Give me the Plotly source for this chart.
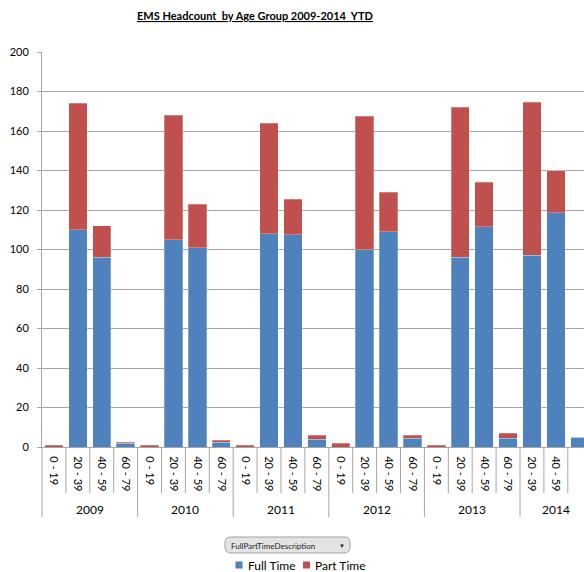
import plotly.graph_objects as go

# ---- data ----
years = ["2009", "2010", "2011", "2012", "2013", "2014"]
age_groups_by_year = [
    ["0 - 19", "20 - 39", "40 - 59", "60 - 79"],
    ["0 - 19", "20 - 39", "40 - 59", "60 - 79"],
    ["0 - 19", "20 - 39", "40 - 59", "60 - 79"],
    ["0 - 19", "20 - 39", "40 - 59", "60 - 79"],
    ["0 - 19", "20 - 39", "40 - 59", "60 - 79"],
    ["20 - 39", "40 - 59", "60 - 79"],
]
full_time = [0, 110, 96, 2,
             0, 105, 101, 2.5,
             0, 108, 107.5, 4,
             0, 100, 109, 4.5,
             0, 96, 111.5, 4.5,
             97, 118.5, 5]
part_time = [1, 64, 16, 0.5,
             1, 63, 22, 1,
             1, 56, 18, 2,
             2, 67.5, 20, 1.5,
             1, 76, 22.5, 2.5,
             77.5, 21.5, 0]
series_names = ["Full Time", "Part Time"]
colors = ["#4F81BD", "#C0504D"]
title_text = "EMS Headcount  by Age Group 2009-2014  YTD"
y_ticks = list(range(0, 201, 20))

# ---- layout geometry (pixels) ----
W, H = 584, 572
ML, MR, MT, MB = 42, 0, 52, 125
PW, PH = W - ML - MR, H - MT - MB
FONT = "Lato, Open Sans, sans-serif"
GRAY = "#A6A6A6"

ages = [a for grp in age_groups_by_year for a in grp]
year_of = [y for y, grp in zip(years, age_groups_by_year) for _ in grp]
idx = list(range(len(ages)))
n = len(ages)
cat_px = 23.9
x0 = -0.5
x1 = x0 + PW / cat_px


def px2x(px):
    return (px - ML) / PW


def px2y(py):
    return (MT + PH - py) / PH


def d2px(v):
    return ML + (v - x0) / (x1 - x0) * PW


fig = go.Figure()
for name, vals, col in zip(series_names, [full_time, part_time], colors):
    fig.add_trace(go.Bar(
        x=idx, y=vals, name=name, width=0.77,
        marker=dict(color=col, line=dict(color="rgba(255,255,255,0.45)", width=0.6)),
        customdata=list(zip(year_of, ages)),
        hovertemplate="%{customdata[0]} %{customdata[1]}<br>" + name + ": %{y}<extra></extra>",
        showlegend=False,
    ))

shapes = []
annotations = []

# dividers below the axis
start = 0
for y, grp in zip(years, age_groups_by_year):
    end = start + len(grp)
    xb = px2x(d2px(start - 0.5))
    shapes.append(dict(type="line", xref="paper", yref="paper", x0=xb, x1=xb,
                       y0=0, y1=px2y(517), line=dict(color=GRAY, width=1)))
    for k in range(start + 1, end):
        xi = px2x(d2px(k - 0.5))
        shapes.append(dict(type="line", xref="paper", yref="paper", x0=xi, x1=xi,
                           y0=0, y1=px2y(493), line=dict(color=GRAY, width=1)))
    annotations.append(dict(text=y, xref="x", yref="paper",
                            x=(start + end - 1) / 2, y=px2y(509),
                            showarrow=False, xanchor="center", yanchor="middle",
                            font=dict(family=FONT, size=12, color="#000000")))
    start = end

# title
annotations.append(dict(text="<b><u>" + title_text + "</u></b>", xref="paper", yref="paper",
                        x=px2x(255), y=px2y(16), showarrow=False,
                        xanchor="center", yanchor="middle",
                        font=dict(family=FONT, size=11, color="#000000")))

# field button
bx0, bx1, by0, by1, r = 225, 350, 537, 553, 6


def P(px, py):
    return f"{px2x(px):.5f},{px2y(py):.5f}"


path = (f"M {P(bx0 + r, by0)} L {P(bx1 - r, by0)} Q {P(bx1, by0)} {P(bx1, by0 + r)} "
        f"L {P(bx1, by1 - r)} Q {P(bx1, by1)} {P(bx1 - r, by1)} "
        f"L {P(bx0 + r, by1)} Q {P(bx0, by1)} {P(bx0, by1 - r)} "
        f"L {P(bx0, by0 + r)} Q {P(bx0, by0)} {P(bx0 + r, by0)} Z")
shapes.append(dict(type="path", xref="paper", yref="paper", path=path,
                   fillcolor="#E4E4E4", line=dict(color="#A0A0A0", width=1)))
annotations.append(dict(text="FullPartTimeDescription", xref="paper", yref="paper",
                        x=px2x(229), y=px2y(545.5), showarrow=False,
                        xanchor="left", yanchor="middle",
                        font=dict(family=FONT, size=8, color="#222222")))
annotations.append(dict(text="▼", xref="paper", yref="paper",
                        x=px2x(342), y=px2y(545.5), showarrow=False,
                        xanchor="center", yanchor="middle",
                        font=dict(family=FONT, size=6, color="#222222")))

# legend (manual)
leg_items = [(235.5, 246), (303, 313)]
for (sqx, tx), name, col in zip(leg_items, series_names, colors):
    shapes.append(dict(type="rect", xref="paper", yref="paper",
                       x0=px2x(sqx), x1=px2x(sqx + 7), y0=px2y(561.5), y1=px2y(568.5),
                       fillcolor=col, line=dict(width=0)))
    annotations.append(dict(text=name, xref="paper", yref="paper",
                            x=px2x(tx), y=px2y(565), showarrow=False,
                            xanchor="left", yanchor="middle",
                            font=dict(family=FONT, size=12, color="#000000")))

fig.update_layout(
    width=W, height=H,
    margin=dict(l=ML, r=MR, t=MT, b=MB, pad=0),
    barmode="stack",
    plot_bgcolor="white", paper_bgcolor="white",
    font=dict(family=FONT, size=11, color="#000000"),
    shapes=shapes, annotations=annotations,
    showlegend=False,
    xaxis=dict(
        range=[x0, x1], tickmode="array", tickvals=idx, ticktext=ages,
        tickangle=90, ticks="", showgrid=False, zeroline=False,
        showline=True, linecolor=GRAY, linewidth=1,
        tickfont=dict(family=FONT, size=11, color="#000000"),
        ticklabelstandoff=6,
    ),
    yaxis=dict(
        range=[0, 200], tickmode="array", tickvals=y_ticks,
        showgrid=True, gridcolor=GRAY, gridwidth=1,
        zeroline=False, showline=True, linecolor=GRAY, linewidth=1,
        ticks="outside", ticklen=4, tickcolor=GRAY,
        tickfont=dict(family=FONT, size=11, color="#000000"),
        ticklabelstandoff=6,
    ),
)

fig.write_html("out.html")
